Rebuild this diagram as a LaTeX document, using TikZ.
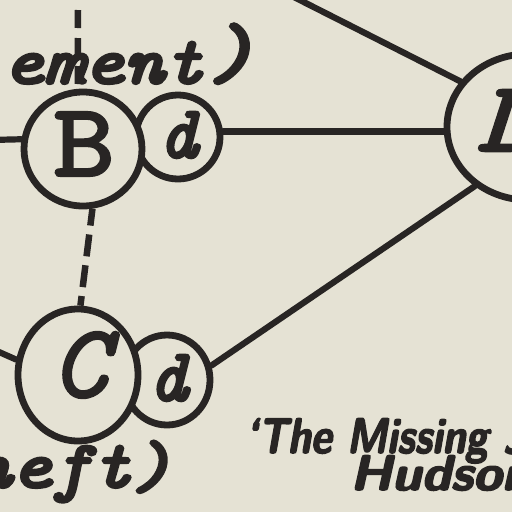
\documentclass[tikz,border=0pt]{standalone}
\usepackage{fontspec}
\usepackage{graphicx}
\usetikzlibrary{shapes.geometric}
\definecolor{paper}{RGB}{229,226,212}
\definecolor{ink}{RGB}{40,37,36}
\newfontfamily\ttA{lmmono10}[Extension=.otf,UprightFont=*-regular,ItalicFont=*-italic,FakeBold=2.5]
\newfontfamily\ttB{lmmono10}[Extension=.otf,UprightFont=*-regular,ItalicFont=*-italic,FakeBold=4]
\newfontfamily\ttC{lmmono10}[Extension=.otf,UprightFont=*-regular,ItalicFont=*-italic,FakeBold=5]
\newfontfamily\capf{lmsans10}[Extension=.otf,UprightFont=*-bold,ItalicFont=*-boldoblique,FakeBold=3]
\begin{document}
\begin{tikzpicture}[x=1pt,y=-1pt,
  ring/.style={ellipse, draw=ink, line width=6.8pt, fill=paper, inner sep=0pt},
  wire/.style={draw=ink, line width=6.2pt, line cap=round},
  dashwire/.style={draw=ink, line width=6.5pt},
  lab/.style={text=ink, inner sep=0pt}]
\useasboundingbox (0,0) rectangle (512,512);
\fill[paper] (0,0) rectangle (512,512);
\clip (0,0) rectangle (512,512);
% rings (small ones first, so the big ones overlap them)
\node[ring, minimum width=84pt, minimum height=84pt] (Bd) at (178,137) {};
\node[ring, minimum width=118pt, minimum height=114pt] (B) at (83,149) {};
\node[ring, minimum width=86pt, minimum height=90pt] (Cd) at (167,380) {};
\node[ring, minimum width=120pt, minimum height=132pt] (C) at (78,375) {};
\node[ring, minimum width=162pt, minimum height=146pt] (D) at (528,127) {};
% free ends
\coordinate (Bin) at (-10,140);
\coordinate (Cin) at (-10,348);
\coordinate (Btop) at (78,10);
\coordinate (Dtop) at (280,-10);
% connectors
\draw[wire] (Bin) -- (B.171);
\draw[wire] (Cin) -- (C.166);
\draw[wire] (Bd.7) -- (Bd.7 -| D.west);
\draw[wire] (Cd.18) -- (D.228);
\draw[wire] (Dtop) -- (D.146);
\draw[dashwire, dash pattern=on 18pt off 10pt] (Btop) -- (B.95);
\draw[dashwire, dash pattern=on 22pt off 9pt, dash phase=5pt] (B.279) -- (C.88);
% letters
\node[lab, font=\ttA\fontsize{104}{104}\selectfont] (Bl) at (84,144) {\scalebox{1.12}[1]{B}};
\node[lab, font=\ttA\itshape\fontsize{104}{104}\selectfont] (Cl) at (80,365) {C};
\node[lab, font=\ttB\itshape\fontsize{74}{74}\selectfont] (Bdl) at (178,135) {d};
\node[lab, font=\ttB\itshape\fontsize{74}{74}\selectfont] (Cdl) at (168,378) {d};
\node[lab, anchor=base west, font=\ttA\itshape\fontsize{100}{100}\selectfont] (Dl) at (476,151) {\scalebox{1.3}[1]{D}};
% texts
\node[lab, anchor=base west, font=\ttC\itshape\fontsize{66}{66}\selectfont] (t1) at (3,83) {\scalebox{1.16}[1]{ement\kern4pt\raisebox{6pt}{\fontsize{76}{76}\selectfont)}}};
\node[lab, anchor=base west, font=\ttC\itshape\fontsize{66}{66}\selectfont] (t2) at (-29,487) {\scalebox{1.16}[1]{heft)}};
\node[lab, anchor=base west, font=\capf\itshape\fontsize{50}{50}\selectfont] (cap1) at (245,453) {\scalebox{0.82}[1]{‘The Missing J}};
\node[lab, anchor=base west, font=\capf\itshape\fontsize{50}{50}\selectfont] (cap2) at (350,490) {\scalebox{1.05}[1]{Hudson}};
\end{tikzpicture}
\end{document}
